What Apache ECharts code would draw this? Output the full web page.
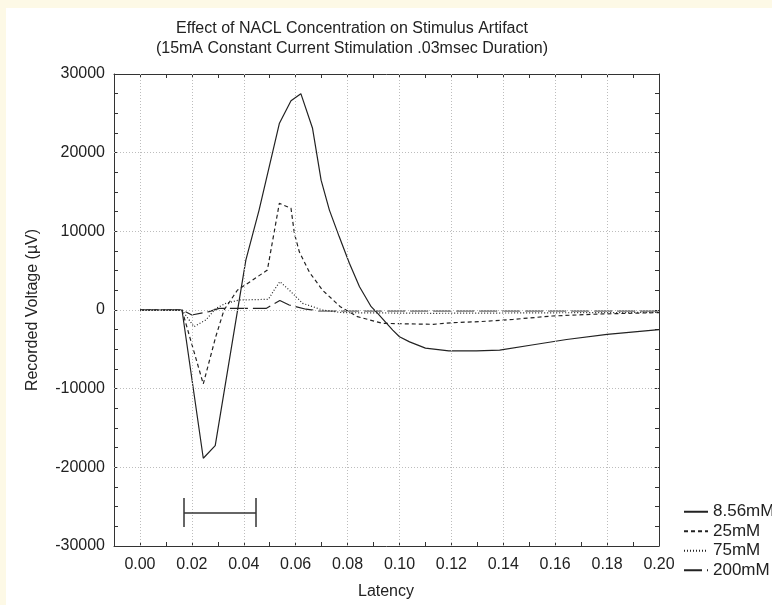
<!DOCTYPE html>
<html><head><meta charset="utf-8">
<script src="https://cdn.jsdelivr.net/npm/echarts@6/dist/echarts.min.js"></script>
<style>html,body{margin:0;padding:0;background:#fff;} #c{width:772px;height:605px;}</style>
</head><body><div id="c"></div>
<script>
const seriesNames = ['8.56mM', '25mM', '75mM', '200mM'];

const x856 = [0, 0.0162, 0.0244, 0.029, 0.0408, 0.0459, 0.0537, 0.0582, 0.0620, 0.0665, 0.0698, 0.073, 0.0768, 0.0807, 0.0846, 0.0891, 0.0916, 0.0974, 0.100, 0.1039, 0.110, 0.119, 0.1296, 0.1386, 0.151, 0.1644, 0.180, 0.200];
const y856 = [0, 0, -18850, -17250, 6350, 12700, 23700, 26600, 27500, 23100, 16500, 12700, 9300, 5950, 2950, 420, -420, -2550, -3400, -4050, -4850, -5200, -5200, -5100, -4450, -3750, -3100, -2500];

const x25 = [0, 0.0162, 0.0244, 0.0292, 0.0324, 0.0376, 0.0434, 0.0491, 0.0537, 0.0582, 0.0595, 0.0614, 0.0653, 0.0704, 0.0772, 0.0838, 0.0936, 0.113, 0.1206, 0.131, 0.1438, 0.159, 0.177, 0.200];
const y25 = [0, 0, -9400, -3400, 0, 2540, 3800, 5085, 13560, 12930, 9750, 7400, 4800, 2500, 420, -850, -1700, -1820, -1610, -1480, -1190, -760, -510, -330];

const x75 = [0, 0.0162, 0.0208, 0.0254, 0.0292, 0.0331, 0.0382, 0.0495, 0.0517, 0.0539, 0.0575, 0.0627, 0.0704, 0.078, 0.113, 0.200];
const y75 = [0, 0, -2120, -1270, 200, 850, 1270, 1360, 2540, 3600, 2540, 850, 0, -340, -420, -300];

const x200 = [0, 0.0162, 0.020, 0.0266, 0.0305, 0.0486, 0.0539, 0.0575, 0.064, 0.0691, 0.200];
const y200 = [0, 0, -640, -210, 200, 200, 1200, 640, 100, -130, -130];

const xGridValues = [0, 0.02, 0.04, 0.06, 0.08, 0.10, 0.12, 0.14, 0.16, 0.18];
const yGridValues = [-20000, -10000, 0, 10000, 20000];

const stimBar = { start: 0.017, end: 0.0447, level: -25800, capLow: -27600, capHigh: -23900 };

const FONT = 'Liberation Sans, Arial, sans-serif';
const INK = '#222';

function pairs(xs, ys) { return xs.map((x, i) => [x, ys[i]]); }

const dashTypes = ['solid', [4, 3], [1, 2], [18, 5]];
const allData = [pairs(x856, y856), pairs(x25, y25), pairs(x75, y75), pairs(x200, y200)];

const xBase = {
  type: 'value', min: -0.01, max: 0.20, interval: 0.01,
  axisLine: { show: true, onZero: false, lineStyle: { color: '#333', width: 1 } },
  axisTick: { show: true, inside: true, length: 4, lineStyle: { color: '#333', width: 1 } },
  splitLine: { show: false }
};
const yBase = {
  type: 'value', min: -30000, max: 30000, interval: 2500,
  axisLine: { show: true, onZero: false, lineStyle: { color: '#333', width: 1 } },
  axisTick: { show: true, inside: true, length: 4, lineStyle: { color: '#333', width: 1 } },
  splitLine: { show: false }
};

const chart = echarts.init(document.getElementById('c'), null, { renderer: 'canvas' });
chart.setOption({
  animation: false,
  backgroundColor: '#fff',
  textStyle: { fontFamily: FONT },
  grid: { left: 114, right: 113, top: 74, bottom: 59, containLabel: false },
  xAxis: [
    Object.assign({}, xBase, {
      position: 'bottom',
      axisLabel: {
        fontSize: 16, color: INK, fontFamily: FONT, margin: 11,
        formatter: v => { const k = Math.round(v * 100); return (k >= 0 && k % 2 === 0) ? (k / 100).toFixed(2) : ''; }
      }
    }),
    Object.assign({}, xBase, { position: 'top', axisLabel: { show: false } })
  ],
  yAxis: [
    Object.assign({}, yBase, {
      position: 'left',
      axisLabel: {
        fontSize: 16, color: INK, fontFamily: FONT, margin: 9,
        formatter: v => (Math.round(v) % 10000 === 0) ? String(Math.round(v)) : ''
      }
    }),
    Object.assign({}, yBase, { position: 'right', axisLabel: { show: false } })
  ],
  legend: {
    orient: 'vertical', left: 683, top: 503, padding: 0,
    itemWidth: 24, itemHeight: 10, itemGap: 2,
    itemStyle: { opacity: 0, borderWidth: 0 },
    textStyle: { fontSize: 17, color: INK, fontFamily: FONT, lineHeight: 17.5 },
    data: seriesNames
  },
  graphic: [
    { type: 'rect', shape: { x: 0, y: 0, width: 772, height: 8 }, style: { fill: '#fdf9e6' }, silent: true },
    { type: 'rect', shape: { x: 0, y: 0, width: 6, height: 605 }, style: { fill: '#fdf9e6' }, silent: true },
    { type: 'text', x: 352, y: 29, style: { text: 'Effect of NACL Concentration on Stimulus Artifact', fontSize: 16, fontFamily: FONT, fill: INK, align: 'center', verticalAlign: 'middle' } },
    { type: 'text', x: 352, y: 49, style: { text: '(15mA Constant Current Stimulation .03msec Duration)', fontSize: 16, fontFamily: FONT, fill: INK, align: 'center', verticalAlign: 'middle' } },
    { type: 'text', x: 33, y: 310, rotation: Math.PI / 2, style: { text: 'Recorded Voltage (µV)', fontSize: 16, fontFamily: FONT, fill: INK, align: 'center', verticalAlign: 'middle' } },
    { type: 'text', x: 386, y: 592, style: { text: 'Latency', fontSize: 16, fontFamily: FONT, fill: INK, align: 'center', verticalAlign: 'middle' } }
  ],
  series: [
    {
      name: 'grid', type: 'line', data: [[0, 0]], showSymbol: false, symbol: 'none', z: 1,
      lineStyle: { opacity: 0 }, silent: true,
      markLine: {
        silent: true, symbol: ['none', 'none'], label: { show: false },
        lineStyle: { color: '#bdbdbd', type: [1, 2], width: 1 },
        emphasis: { disabled: true },
        data: [...xGridValues.map(v => ({ xAxis: v })), ...yGridValues.map(v => ({ yAxis: v }))]
      }
    },
    ...seriesNames.map((n, i) => ({
      name: n, type: 'line', data: allData[i], symbol: 'none', showSymbol: false, z: 3,
      color: INK,
      lineStyle: { color: INK, width: 1.2, type: dashTypes[i] }
    })),
    {
      name: 'stim', type: 'line', data: [[0, 0]], symbol: 'none', lineStyle: { opacity: 0 }, z: 3, silent: true,
      markLine: {
        silent: true, symbol: ['none', 'none'], label: { show: false },
        lineStyle: { color: '#333', type: 'solid', width: 1.5 },
        emphasis: { disabled: true },
        data: [
          [{ coord: [stimBar.start, stimBar.capLow] }, { coord: [stimBar.start, stimBar.capHigh] }],
          [{ coord: [stimBar.start, stimBar.level] }, { coord: [stimBar.end, stimBar.level] }],
          [{ coord: [stimBar.end, stimBar.capLow] }, { coord: [stimBar.end, stimBar.capHigh] }]
        ]
      }
    }
  ]
});
</script>
</body></html>
